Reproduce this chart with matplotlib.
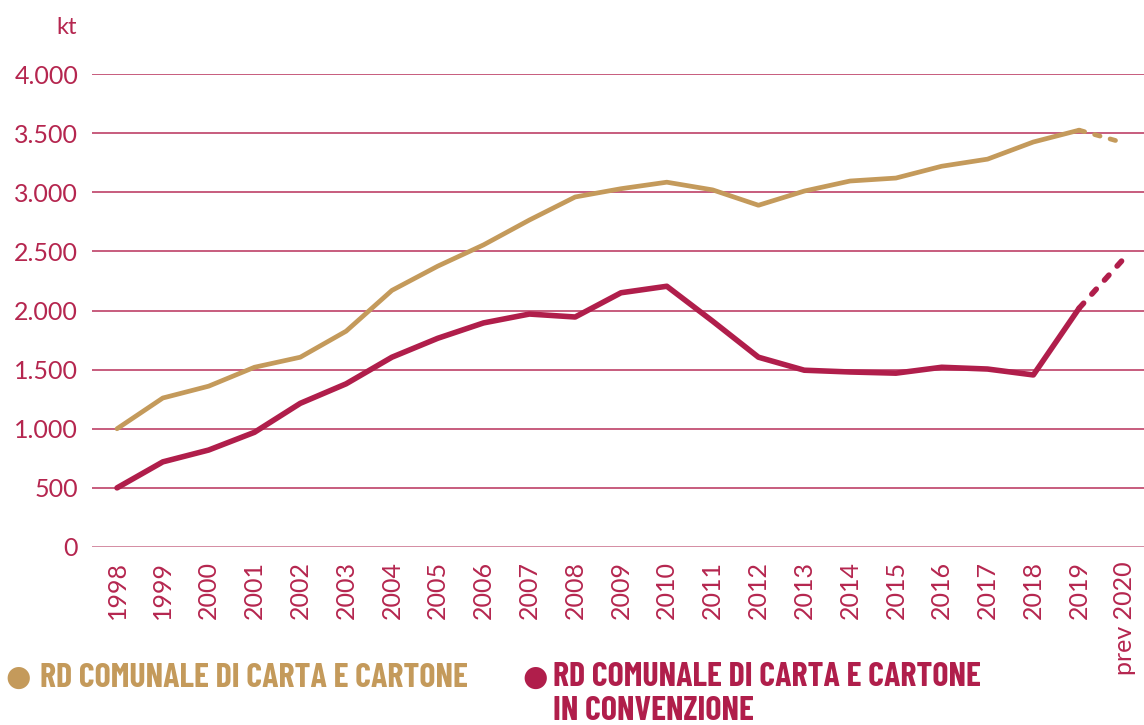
import matplotlib
matplotlib.use("Agg")
import matplotlib.pyplot as plt
from matplotlib.ticker import FuncFormatter

# values (kt)
years = list(range(1998, 2021))
year_labels = [str(y) for y in years[:-1]] + ["prev 2020"]
carta_totale = [1000, 1260, 1360, 1520, 1605, 1825, 2170, 2375, 2555, 2765, 2960,
                3030, 3085, 3020, 2890, 3010, 3095, 3120, 3220, 3280, 3425, 3525, 3415]
carta_convenzione = [500, 720, 820, 970, 1215, 1380, 1605, 1765, 1895, 1970, 1945,
                     2150, 2205, 1910, 1605, 1495, 1480, 1470, 1520, 1505, 1455, 2020, 2450]
legend_labels = ["RD COMUNALE DI CARTA E CARTONE",
                 "RD COMUNALE DI CARTA E CARTONE\nIN CONVENZIONE"]

GOLD = "#C49A5B"
RED = "#B01E4B"
GRID = "#B8305A"
TXT = "#B5264F"

plt.rcParams['font.family'] = ['Lato', 'DejaVu Sans']

fig = plt.figure(figsize=(11.44, 7.25), dpi=100)
ax = fig.add_axes([92 / 1144, 1 - 547 / 725, 1 - 92 / 1144, (547 - 74) / 725])

for vals, col, lw in [(carta_totale, GOLD, 3.4), (carta_convenzione, RED, 4.0)]:
    ax.plot(years[:-1], vals[:-1], color=col, lw=lw, solid_capstyle='round',
            solid_joinstyle='round', zorder=3)
    ax.plot(years[-2:], vals[-2:], color=col, lw=lw, linestyle=(0, (1.2, 2.2)),
            dash_capstyle='round', zorder=3)

ax.set_ylim(0, 4000)
ax.set_xlim(1997.454, 2020.415)
ax.set_yticks(range(0, 4001, 500))
ax.yaxis.set_major_formatter(FuncFormatter(lambda v, p: f"{int(v):,}".replace(",", ".")))
ax.set_xticks(years)
ax.set_xticklabels(year_labels, rotation=90, va='top', ha='center')

for v in range(500, 4001, 500):
    ax.axhline(v, color=GRID, lw=1.1, zorder=1)
ax.axhline(0, color="#C86A88", lw=1.8, zorder=1)

for s in ax.spines.values():
    s.set_visible(False)
ax.tick_params(length=0, labelsize=18)
ax.tick_params(axis='y', pad=10)
ax.tick_params(axis='x', pad=10)
for t in ax.get_yticklabels() + ax.get_xticklabels():
    t.set_color(TXT)

fig.text(67 / 1144, 1 - 28 / 725, "kt", color=TXT, fontsize=17,
         ha='center', va='center')

# legend
leg_font = ['Barlow Condensed', 'Roboto Condensed', 'DejaVu Sans']
fig.text(18 / 1144, 1 - 678 / 725, "\u25CF", color=GOLD, fontsize=21,
         ha='center', va='center', family=['DejaVu Sans'])
fig.text(40 / 1144, 1 - 678 / 725, legend_labels[0], color=GOLD, fontsize=24.5,
         fontweight='bold', ha='left', va='center', family=leg_font)
fig.text(535 / 1144, 1 - 678 / 725, "\u25CF", color=RED, fontsize=21,
         ha='center', va='center', family=['DejaVu Sans'])
fig.text(553 / 1144, 1 - 662 / 725, legend_labels[1], color=RED, fontsize=24.5,
         fontweight='bold', ha='left', va='top', family=leg_font, linespacing=1.15)

fig.savefig("out.png", dpi=100)
